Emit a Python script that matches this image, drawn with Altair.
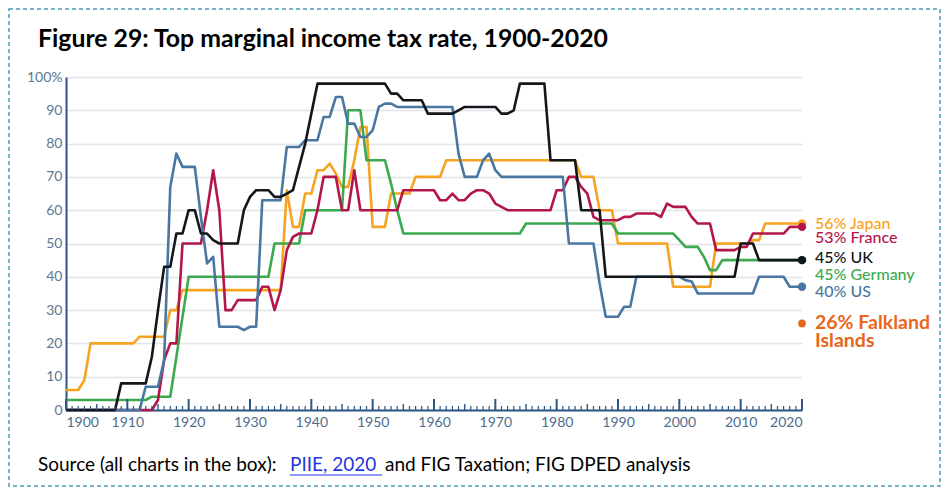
import altair as alt
import pandas as pd

years = list(range(1900, 2021))

japan = [6, 6, 6, 9, 20, 20, 20, 20, 20, 20,
         20, 20, 22, 22, 22, 22, 22, 30, 30, 36,
         36, 36, 36, 36, 36, 36, 36, 36, 36, 36,
         36, 36, 36, 36, 36, 36, 66, 55, 55, 65,
         65, 72, 72, 74, 71, 67, 67, 75, 85, 85,
         55, 55, 55, 65, 65, 65, 65, 70, 70, 70,
         70, 70, 75, 75, 75, 75, 75, 75, 75, 75,
         75, 75, 75, 75, 75, 75, 75, 75, 75, 75,
         75, 75, 75, 75, 70, 70, 70, 60, 60, 60,
         50, 50, 50, 50, 50, 50, 50, 50, 50, 37,
         37, 37, 37, 37, 37, 37, 50, 50, 50, 50,
         50, 50, 51, 51, 56, 56, 56, 56, 56, 56,
         56]

france = [0, 0, 0, 0, 0, 0, 0, 0, 0, 0,
          0, 0, 0, 0, 0, 3, 15, 20, 20, 50,
          50, 50, 50, 60, 72, 60, 30, 30, 33, 33,
          33, 33, 37, 37, 30, 36, 48, 52, 53, 53,
          53, 60, 70, 70, 70, 60, 60, 72, 60, 60,
          60, 60, 60, 60, 60, 66, 66, 66, 66, 66,
          66, 63, 63, 65, 63, 63, 65, 66, 66, 65,
          62, 61, 60, 60, 60, 60, 60, 60, 60, 60,
          66, 66, 70, 70, 67, 65, 58, 57, 57, 57,
          57, 58, 58, 59, 59, 59, 59, 58, 62, 61,
          61, 61, 58, 56, 56, 56, 48, 48, 48, 48,
          49, 49, 53, 53, 53, 53, 53, 53, 55, 55,
          55]

uk = [0, 0, 0, 0, 0, 0, 0, 0, 0, 8,
      8, 8, 8, 8, 16, 30, 43, 43, 53, 53,
      60, 60, 53, 53, 51, 50, 50, 50, 50, 60,
      64, 66, 66, 66, 64, 64, 65, 66, 73, 80,
      89, 98, 98, 98, 98, 98, 98, 98, 98, 98,
      98, 98, 98, 95, 95, 93, 93, 93, 93, 89,
      89, 89, 89, 89, 90, 91, 91, 91, 91, 91,
      91, 89, 89, 90, 98, 98, 98, 98, 98, 75,
      75, 75, 75, 75, 60, 60, 60, 60, 40, 40,
      40, 40, 40, 40, 40, 40, 40, 40, 40, 40,
      40, 40, 40, 40, 40, 40, 40, 40, 40, 40,
      50, 50, 50, 45, 45, 45, 45, 45, 45, 45,
      45]

germany = [3, 3, 3, 3, 3, 3, 3, 3, 3, 3,
           3, 3, 3, 3, 4, 4, 4, 4, 16, 28,
           40, 40, 40, 40, 40, 40, 40, 40, 40, 40,
           40, 40, 40, 40, 50, 50, 50, 50, 50, 60,
           60, 60, 60, 60, 60, 60, 90, 90, 90, 75,
           75, 75, 75, 68, 60, 53, 53, 53, 53, 53,
           53, 53, 53, 53, 53, 53, 53, 53, 53, 53,
           53, 53, 53, 53, 53, 56, 56, 56, 56, 56,
           56, 56, 56, 56, 56, 56, 56, 56, 56, 56,
           53, 53, 53, 53, 53, 53, 53, 53, 53, 53,
           51, 49, 49, 49, 46, 42, 42, 45, 45, 45,
           45, 45, 45, 45, 45, 45, 45, 45, 45, 45,
           45]

us = [0, 0, 0, 0, 0, 0, 0, 0, 0, 0,
      0, 0, 0, 7, 7, 7, 15, 67, 77, 73,
      73, 73, 58, 44, 46, 25, 25, 25, 25, 24,
      25, 25, 63, 63, 63, 63, 79, 79, 79, 81,
      81, 81, 88, 88, 94, 94, 86, 86, 82, 82,
      84, 91, 92, 92, 91, 91, 91, 91, 91, 91,
      91, 91, 91, 91, 77, 70, 70, 70, 75, 77,
      72, 70, 70, 70, 70, 70, 70, 70, 70, 70,
      70, 70, 50, 50, 50, 50, 50, 38, 28, 28,
      28, 31, 31, 40, 40, 40, 40, 40, 40, 40,
      40, 39, 38.6, 35, 35, 35, 35, 35, 35, 35,
      35, 35, 35, 40, 40, 40, 40, 40, 37, 37,
      37]

series_names = ["Japan", "Germany", "France", "US", "UK"]
series_values = {"Japan": japan, "Germany": germany, "France": france, "US": us, "UK": uk}
series_colors = {"Japan": "#F6A321", "Germany": "#3CA94E", "France": "#B3164B",
                 "US": "#4A77A2", "UK": "#13171C"}

label_texts = {"Japan": "56% Japan", "France": "53% France", "UK": "45% UK",
               "Germany": "45% Germany", "US": "40% US"}
label_dy = {"Japan": 0, "France": 11, "UK": -2, "Germany": 15, "US": 5}

falkland_year = [2020]
falkland_rate = [26]

tick_years = list(range(1900, 2021))
x_label_years = list(range(1900, 2021, 10))
y_label_values = list(range(0, 101, 10))

W, H = 736, 333
NAVY = "#2C5683"
FONT = "Lato"

xscale = alt.Scale(domain=[1900, 2020], nice=False, zero=False)
yscale = alt.Scale(domain=[0, 100], nice=False)

x_axis = alt.Axis(values=x_label_years, format="d", labelFlush=True,
                  labelOverlap=False, ticks=False, grid=False, domainColor=NAVY,
                  domainWidth=2, labelFont=FONT, labelFontSize=14, labelColor="#4E6C8C",
                  labelPadding=5, title=None)
y_axis = alt.Axis(values=y_label_values,
                  labelExpr="datum.value == 100 ? '100%' : datum.label",
                  labelOverlap=False, ticks=False, grid=True, gridColor="#E1E4E8",
                  gridWidth=1.5, domainColor=NAVY, domainWidth=2, labelFont=FONT,
                  labelFontSize=14, labelColor="#5D7891", labelPadding=4, title=None)


def X():
    return alt.X("year:Q", scale=xscale, axis=x_axis)


def Y():
    return alt.Y("rate:Q", scale=yscale, axis=y_axis)


layers = []

# lines (first, so axes come from here)
for name in series_names:
    df = pd.DataFrame({"year": years, "rate": series_values[name]})
    layers.append(
        alt.Chart(df).mark_line(color=series_colors[name], strokeWidth=2.6,
                                strokeJoin="round", interpolate="linear").encode(x=X(), y=Y())
    )

# tick marks along x axis (pointing up)
tick_df = pd.DataFrame({"year": tick_years})
tick_df["kind"] = ["major" if y % 10 == 0 else ("mid" if y % 5 == 0 else "minor") for y in tick_years]
for kind, size, sw in [("minor", 4, 1.2), ("mid", 6, 1.4), ("major", 11, 2)]:
    layers.append(
        alt.Chart(tick_df[tick_df["kind"] == kind]).mark_rule(color=NAVY, strokeWidth=sw).encode(
            x=X(), y=alt.value(H), y2=alt.value(H - size))
    )

# end dots and labels
for name in ["Japan", "France", "US", "Germany", "UK"]:
    df = pd.DataFrame({"year": [years[-1]], "rate": [series_values[name][-1]],
                       "label": [label_texts[name]]})
    layers.append(
        alt.Chart(df).mark_circle(color=series_colors[name], size=70, opacity=1).encode(
            x=X(), y=Y()))
    layers.append(
        alt.Chart(df).mark_text(color=series_colors[name], align="left", baseline="middle",
                                dx=13, dy=label_dy[name], font=FONT, fontSize=16,
                                fontWeight=500).encode(x=X(), y=Y(), text="label:N"))

fdf = pd.DataFrame({"year": falkland_year, "rate": falkland_rate})
layers.append(alt.Chart(fdf).mark_circle(color="#E8671B", size=60, opacity=1).encode(x=X(), y=Y()))
layers.append(alt.Chart(fdf).mark_text(color="#E8671B", align="left", baseline="middle",
                                       dx=13, dy=0, font=FONT, fontSize=19.5, fontWeight="bold",
                                       text="26% Falkland").encode(x=X(), y=Y()))
layers.append(alt.Chart(fdf).mark_text(color="#E8671B", align="left", baseline="middle",
                                       dx=13, dy=18, font=FONT, fontSize=19.5, fontWeight="bold",
                                       text="Islands").encode(x=X(), y=Y()))

one = pd.DataFrame({"a": [0]})

# title
layers.append(alt.Chart(one).mark_text(text="Figure 29: Top marginal income tax rate, 1900-2020",
                                       align="left", baseline="middle", font=FONT,
                                       fontSize=24.8, fontWeight="bold", color="#000000").encode(
    x=alt.value(-28), y=alt.value(-37)))

# source line
layers.append(alt.Chart(one).mark_text(text="Source (all charts in the box): ",
                                       align="left", baseline="middle", font=FONT,
                                       fontSize=19, color="#000000").encode(
    x=alt.value(-28), y=alt.value(388)))
layers.append(alt.Chart(one).mark_text(text="PIIE, 2020",
                                       align="left", baseline="middle", font=FONT,
                                       fontSize=19, color="#1F35E0").encode(
    x=alt.value(224), y=alt.value(388)))
layers.append(alt.Chart(one).mark_rule(color="#1F35E0", strokeWidth=1.2).encode(
    x=alt.value(224), x2=alt.value(316), y=alt.value(398)))
layers.append(alt.Chart(one).mark_text(text="and FIG Taxation; FIG DPED analysis",
                                       align="left", baseline="middle", font=FONT,
                                       fontSize=19, color="#000000").encode(
    x=alt.value(319), y=alt.value(388)))

# dashed border
layers.append(alt.Chart(one).mark_rect(fill="white", fillOpacity=0, stroke="#4A9BB5",
                                       strokeWidth=1.5, strokeDash=[4, 3]).encode(
    x=alt.value(-57), x2=alt.value(874), y=alt.value(-68), y2=alt.value(409)))

chart = alt.layer(*layers).properties(
    width=W, height=H,
    padding={"left": 58, "top": 69, "right": 139, "bottom": 77},
    autosize=alt.AutoSizeParams(type="none"),
    background="white",
).configure_view(stroke=None)

chart.save("out.html", embed_options={"renderer": "svg", "actions": False})
